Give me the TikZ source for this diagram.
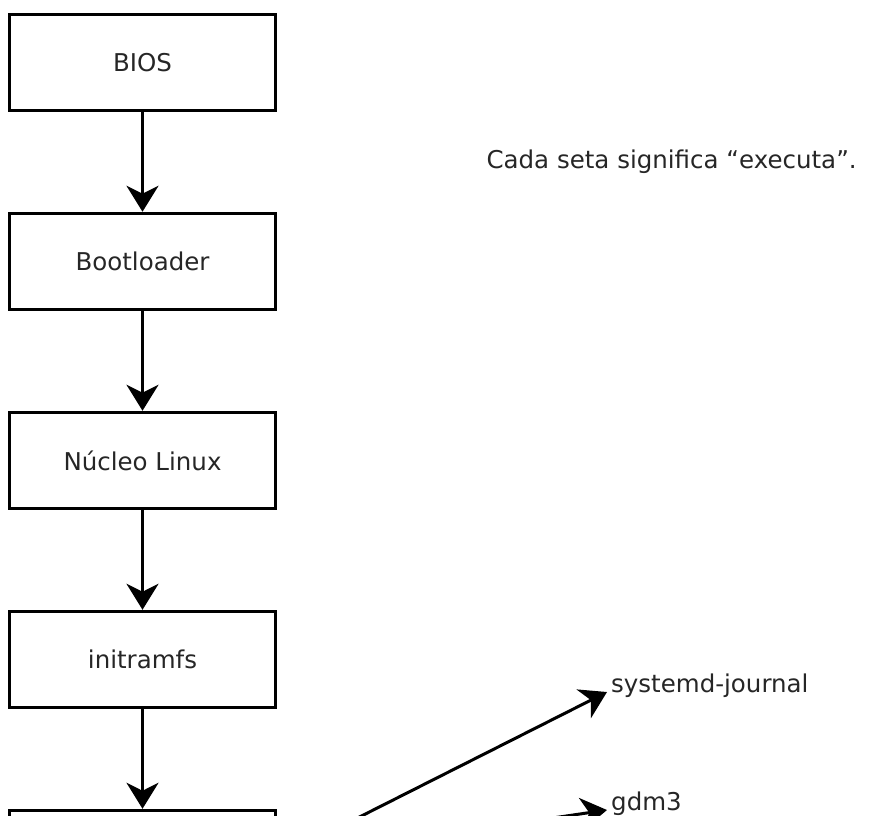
\documentclass[tikz,border=0pt]{standalone}
\usepackage{fontspec}
\setmainfont{DejaVu Sans}
\usepackage{tikz}
\usetikzlibrary{arrows.meta}

\begin{document}
\begin{tikzpicture}[x=1pt,y=-1pt,
    font=\fontsize{24.5}{29}\selectfont,
    every node/.style={text=black!85},
    stage/.style={draw=black, line width=3.5pt, minimum width=266pt, minimum height=96pt, inner sep=0pt},
    runs/.style={line width=3pt, -{Stealth[length=26pt,width=32pt,inset=8pt]}}]
        \useasboundingbox (0,0) rectangle (874,815);
        \clip (0,0) rectangle (874,815);

        \node[stage] (bios)   at (142.5,62.5)  {BIOS};
        \node[stage] (boot)   at (142.5,261.5) {Bootloader};
        \node[stage] (kernel) at (142.5,460.5) {Núcleo Linux};
        \node[stage] (initrd) at (142.5,659.5) {initramfs};
        \node[stage] (sysd)   at (142.5,858.5) {};

        \node[anchor=base west] at (483,168) {Cada seta significa “executa”.};
        \node[anchor=base west, inner sep=4pt] (journal) at (607,692) {systemd-journal};
        \node[anchor=base west, inner sep=4pt] (gdm) at (607,810) {gdm3};

        \draw[runs] (bios) -- (boot);
        \draw[runs] (boot) -- (kernel);
        \draw[runs] (kernel) -- (initrd);
        \draw[runs] (initrd) -- (sysd);

        \draw[runs] (sysd.east) -- (journal.base west);
        \draw[runs] (sysd.east) -- (gdm.base west);
    \end{tikzpicture}
\end{document}
